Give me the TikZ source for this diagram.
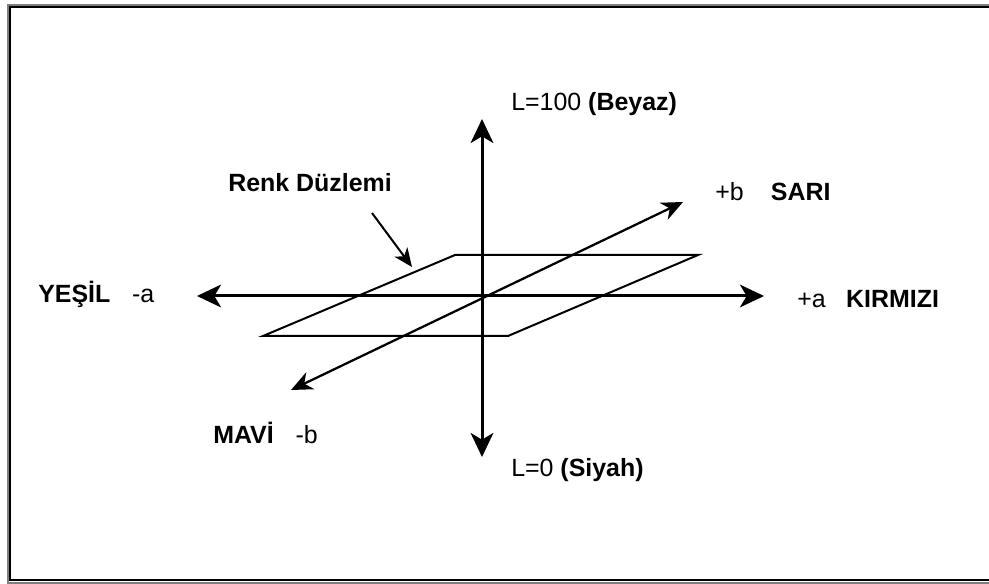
\documentclass[tikz,border=0pt]{standalone}
\usepackage{fontspec}
\setmainfont{Liberation Sans}
\usetikzlibrary{arrows.meta,positioning}
\definecolor{framegray}{HTML}{7F7F7F}

\begin{document}
\begin{tikzpicture}[x=0.75pt,y=-0.75pt,font=\fontsize{18.7}{22}\selectfont,
    lbl/.style={inner sep=0pt,anchor=base west},
    bold/.style={lbl,font=\fontsize{18.7}{22}\selectfont\bfseries},
    axis/.style={line width=2.25pt,{Stealth[length=18pt,width=17pt,inset=5pt]}-{Stealth[length=18pt,width=17pt,inset=5pt]}},
    baxis/.style={line width=1.7pt,{Stealth[length=16pt,width=14pt,inset=5pt]}-{Stealth[length=16pt,width=14pt,inset=5pt]}},
    plane/.style={line width=1.5pt,line join=miter}]
    \useasboundingbox (0,0) rectangle (989,584);
    % frame
    \draw[framegray,line width=1.5pt] (8,5) rectangle (995,582.5);
    \draw[black,line width=0.9pt] (10,7) rectangle (993,580);

    \coordinate (o) at (482,296);
    \coordinate (ust) at (482,119);
    \coordinate (alt) at (482,457);
    \coordinate (sol) at (197,296);
    \coordinate (sag) at (764,296);
    \coordinate (bust) at (683,202);
    \coordinate (balt) at (291,390);
    % renk duzlemi
    \coordinate (p1) at (455,255);
    \coordinate (p2) at (698,255);
    \coordinate (p3) at (508,336);
    \coordinate (p4) at (263,336);
    \draw[plane] (p1) -- (p2) -- (p3) -- (p4) -- cycle;

    \draw[axis] (sol) -- (sag);
    \draw[axis] (alt) -- (ust);
    \draw[baxis] (balt) -- (bust);

    \node[lbl] (beyaz) at (511,111) {L=100 \textbf{(Beyaz)}};
    \node[lbl] (siyah) at (511,476) {L=0 \textbf{(Siyah)}};
    \node[lbl] (artib) at (715,201) {+b};
    \node[bold,base right=20pt of artib] (sari) {SARI};
    \node[lbl] (artia) at (797,308) {+a};
    \node[bold,base right=15pt of artia] (kirmizi) {KIRMIZI};
    \node[bold] (yesil) at (38,303) {YEŞİL};
    \node[lbl,base right=16pt of yesil] (eksia) {-a};
    \node[bold] (mavi) at (213,444) {MAVİ};
    \node[lbl,base right=16pt of mavi] (eksib) {-b};
    \node[bold] (renk) at (228,192) {Renk Düzlemi};

    \coordinate (rbas) at (372,213);
    \coordinate (ruc) at (412,267);
    \draw[line width=1.5pt,-{Stealth[length=14pt,width=12pt,inset=4pt]}] (rbas) -- (ruc);
\end{tikzpicture}
\end{document}
